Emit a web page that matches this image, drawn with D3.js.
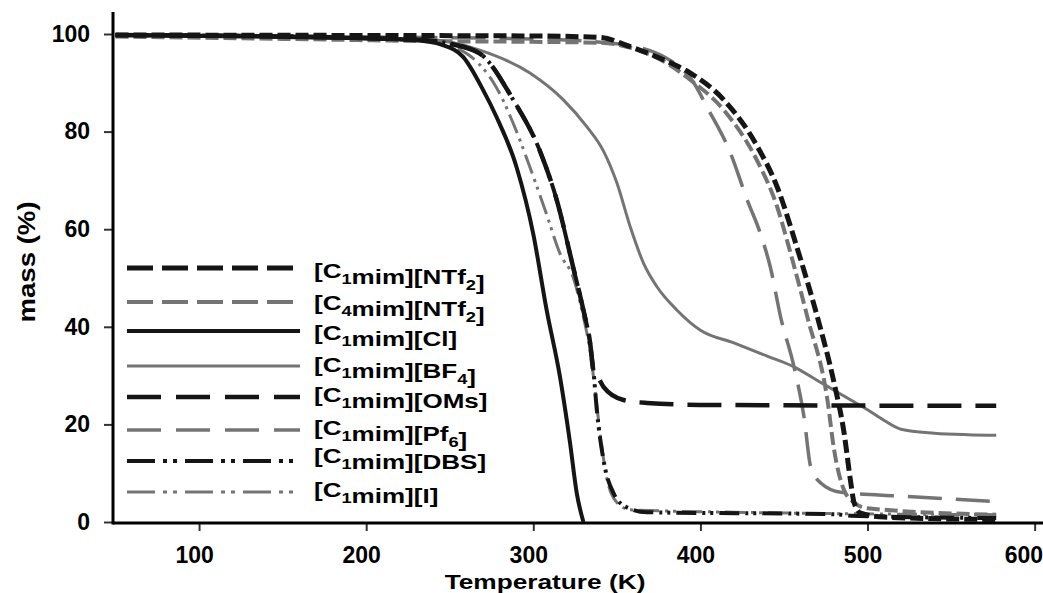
<!DOCTYPE html>
<html lang="en">
<head>
<meta charset="UTF-8">
<title>TGA curves</title>
<script src="https://cdnjs.cloudflare.com/ajax/libs/d3/7.8.5/d3.min.js"></script>
<style>
  body { margin: 0; background: #fff; }
  svg text { font-family: "Liberation Sans", Arial, sans-serif; font-weight: bold; fill: #000; }
</style>
</head>
<body>
<div id="graph"></div>
<script>
// values: [temperature K, mass %]
const c1NTf2 = [[50,99.8],[200,99.7],[300,99.6],[340,99.3],[358,97.4],[378,94.7],[394,92],[414,86.5],[434,77],[446,68.6],[458,56],[470,42],[480,28.5],[486,18.2],[490,8],[492,3.9],[496,1.8],[510,1],[577,0.5]];
const c4NTf2 = [[50,99.5],[150,99],[250,98.5],[300,98.4],[340,98.2],[360,97],[380,94],[394,90.6],[414,84.4],[434,74],[446,64.5],[454,55],[464,42],[476,25],[480,14.8],[486,6.5],[492,4],[500,2.8],[577,1.5]];
const c1Cl = [[50,99.8],[100,99.6],[150,99.4],[200,99.1],[230,98.7],[245,97.8],[258,95.3],[270,88.5],[278,83],[290,72.7],[300,59],[308,43.4],[316,29.7],[322,16.2],[326,5.9],[330,0]];
const c1BF4 = [[50,99.8],[150,99.5],[200,99.2],[240,98.8],[268,96.7],[298,92],[318,86.5],[332,81],[342,76],[350,69.5],[358,60.5],[366,53],[374,48.2],[386,43.4],[400,39.3],[420,36.7],[440,34],[456,31.8],[470,29],[480,27],[490,25],[500,23],[510,20.8],[520,19],[540,18.2],[560,17.9],[577,17.8]];
const c1OMs = [[50,99.8],[150,99.5],[230,98.8],[250,98],[268,96],[288,86.5],[304,76],[314,66],[324,52],[330,43.4],[334,36.7],[336,31],[339,29.5],[342,27.7],[354,25],[368,24.4],[400,24],[577,23.8]];
const c1Pf6 = [[50,99.8],[200,99.4],[300,99],[350,98],[380,95],[396,90],[404,85],[418,75.6],[428,66],[436,59],[442,52],[448,42],[456,31.8],[462,21.5],[466,11.3],[472,8],[484,6.1],[520,5.3],[577,4.2]];
const c1DBS = [[50,99.8],[150,99.5],[230,98.8],[250,98],[268,96],[288,86.5],[304,76],[314,66],[324,52],[330,43.4],[334,36.7],[336,31],[338,23],[342,12.7],[348,5.9],[356,3],[368,2],[480,1.6],[490,1.3],[577,0.8]];
const c1I = [[50,99.8],[150,99.5],[240,98.8],[255,97],[264,95],[278,89],[290,80],[298,72.7],[308,63],[316,55],[324,50],[330,42],[334,35],[337,27],[340,18],[344,9],[350,4],[358,2.5],[420,2],[577,1.5]];

const legendLabels = ["[C_1mim][NTf_2]", "[C_4mim][NTf_2]", "[C_1mim][Cl]", "[C_1mim][BF_4]",
                      "[C_1mim][OMs]", "[C_1mim][Pf_6]", "[C_1mim][DBS]", "[C_1mim][I]"];
const xTicks = [100, 200, 300, 400, 500, 600];
const yTicks = [0, 20, 40, 60, 80, 100];

// style of each series, same order as the legend
const black = "#151515", grey = "#747474";
const series = [
  { data: c1NTf2, color: black, width: 5,   dash: "13,5",            legendDash: "26,9" },
  { data: c4NTf2, color: grey,  width: 4,   dash: "13,5",            legendDash: "26,9" },
  { data: c1Cl,   color: black, width: 4,   dash: null,              legendDash: null },
  { data: c1BF4,  color: grey,  width: 3,   dash: null,              legendDash: null },
  { data: c1OMs,  color: black, width: 4.5, dash: "34,14",           legendDash: "34,15" },
  { data: c1Pf6,  color: grey,  width: 3.5, dash: "34,14",           legendDash: "34,15" },
  { data: c1DBS,  color: black, width: 4,   dash: "20,6,3,5,3,6",    legendDash: "28,8,4,6,4,8" },
  { data: c1I,    color: grey,  width: 3,   dash: "20,6,3,5,3,6",    legendDash: "28,8,4,6,4,8" }
];
const drawOrder = [3, 5, 1, 7, 4, 6, 2, 0];

const width = 1043, height = 593;
const mLeft = 113, mRight = 1043, mTop = 34, mBottom = 522;

const svg = d3.select("#graph").append("svg")
  .attr("width", width).attr("height", height);

const x = d3.scaleLinear().domain([48.5, 605]).range([mLeft, mRight]);
const y = d3.scaleLinear().domain([0, 100]).range([mBottom, mTop]);

// axes
const xAxis = svg.append("g")
  .attr("transform", "translate(0," + (mBottom + 1) + ")")
  .call(d3.axisBottom(x).tickValues(xTicks).tickSize(8).tickPadding(16).tickSizeOuter(0));
const yAxis = svg.append("g")
  .attr("transform", "translate(" + mLeft + ",0)")
  .call(d3.axisLeft(y).tickValues(yTicks).tickSize(9).tickPadding(14).tickSizeOuter(0));

[xAxis, yAxis].forEach(function(a) {
  a.select(".domain").remove();
  a.selectAll(".tick line").attr("stroke", "#333").attr("stroke-width", 2);
  a.selectAll(".tick text").attr("font-size", 23).attr("fill", "#000")
    .attr("font-family", "'Liberation Sans', Arial, sans-serif").attr("font-weight", "bold");
});
// labels sit a little left of their ticks; the last one is kept inside the frame
xAxis.selectAll(".tick text").attr("dx", -5);
xAxis.selectAll(".tick text").filter(function(d) { return d === 600; })
  .attr("text-anchor", "end").attr("dx", 8);

svg.append("line").attr("x1", mLeft).attr("x2", mLeft).attr("y1", 12).attr("y2", mBottom + 2.5)
  .attr("stroke", "#000").attr("stroke-width", 3);
svg.append("line").attr("x1", mLeft).attr("x2", mRight).attr("y1", mBottom + 1).attr("y2", mBottom + 1)
  .attr("stroke", "#000").attr("stroke-width", 3);

// text with subscripts written as _n, slightly stretched like the source
function label(g, str, size) {
  const t = g.append("text").attr("font-size", size);
  str.split(/(_\w)/).forEach(function(part) {
    if (!part) return;
    if (part[0] === "_") {
      t.append("tspan").attr("font-size", size * 0.7).attr("dy", size * 0.28).text(part.slice(1));
      t.append("tspan").attr("dy", -size * 0.28).text("");
    } else {
      t.append("tspan").text(part);
    }
  });
  return t;
}

// curves
const line = d3.line()
  .x(function(d) { return x(d[0]); })
  .y(function(d) { return y(d[1]); })
  .curve(d3.curveMonotoneX);

drawOrder.forEach(function(i) {
  const s = series[i];
  svg.append("path")
    .attr("d", line(s.data))
    .attr("fill", "none")
    .attr("stroke", s.color)
    .attr("stroke-width", s.width)
    .attr("stroke-dasharray", s.dash)
    .attr("stroke-linejoin", "round");
});

// legend
const legendRows = [268, 302, 331, 366, 397, 430, 461, 492];
const legendBase = [278, 310, 340, 372, 402, 435, 463, 497];
series.forEach(function(s, i) {
  svg.append("line")
    .attr("x1", 127).attr("x2", 300)
    .attr("y1", legendRows[i]).attr("y2", legendRows[i])
    .attr("stroke", s.color).attr("stroke-width", s.width)
    .attr("stroke-dasharray", s.legendDash);
  const g = svg.append("g")
    .attr("transform", "translate(" + 314 + "," + legendBase[i] + ") scale(1.24,1)");
  label(g, legendLabels[i], 21);
});

// axis titles
const xt = svg.append("g").attr("transform", "translate(545,589) scale(1.25,1)");
label(xt, "Temperature (K)", 21).attr("text-anchor", "middle");

const yt = svg.append("g").attr("transform", "translate(35,262) rotate(-90) scale(1.2,1)");
label(yt, "mass (%)", 23).attr("text-anchor", "middle");
</script>
</body>
</html>
